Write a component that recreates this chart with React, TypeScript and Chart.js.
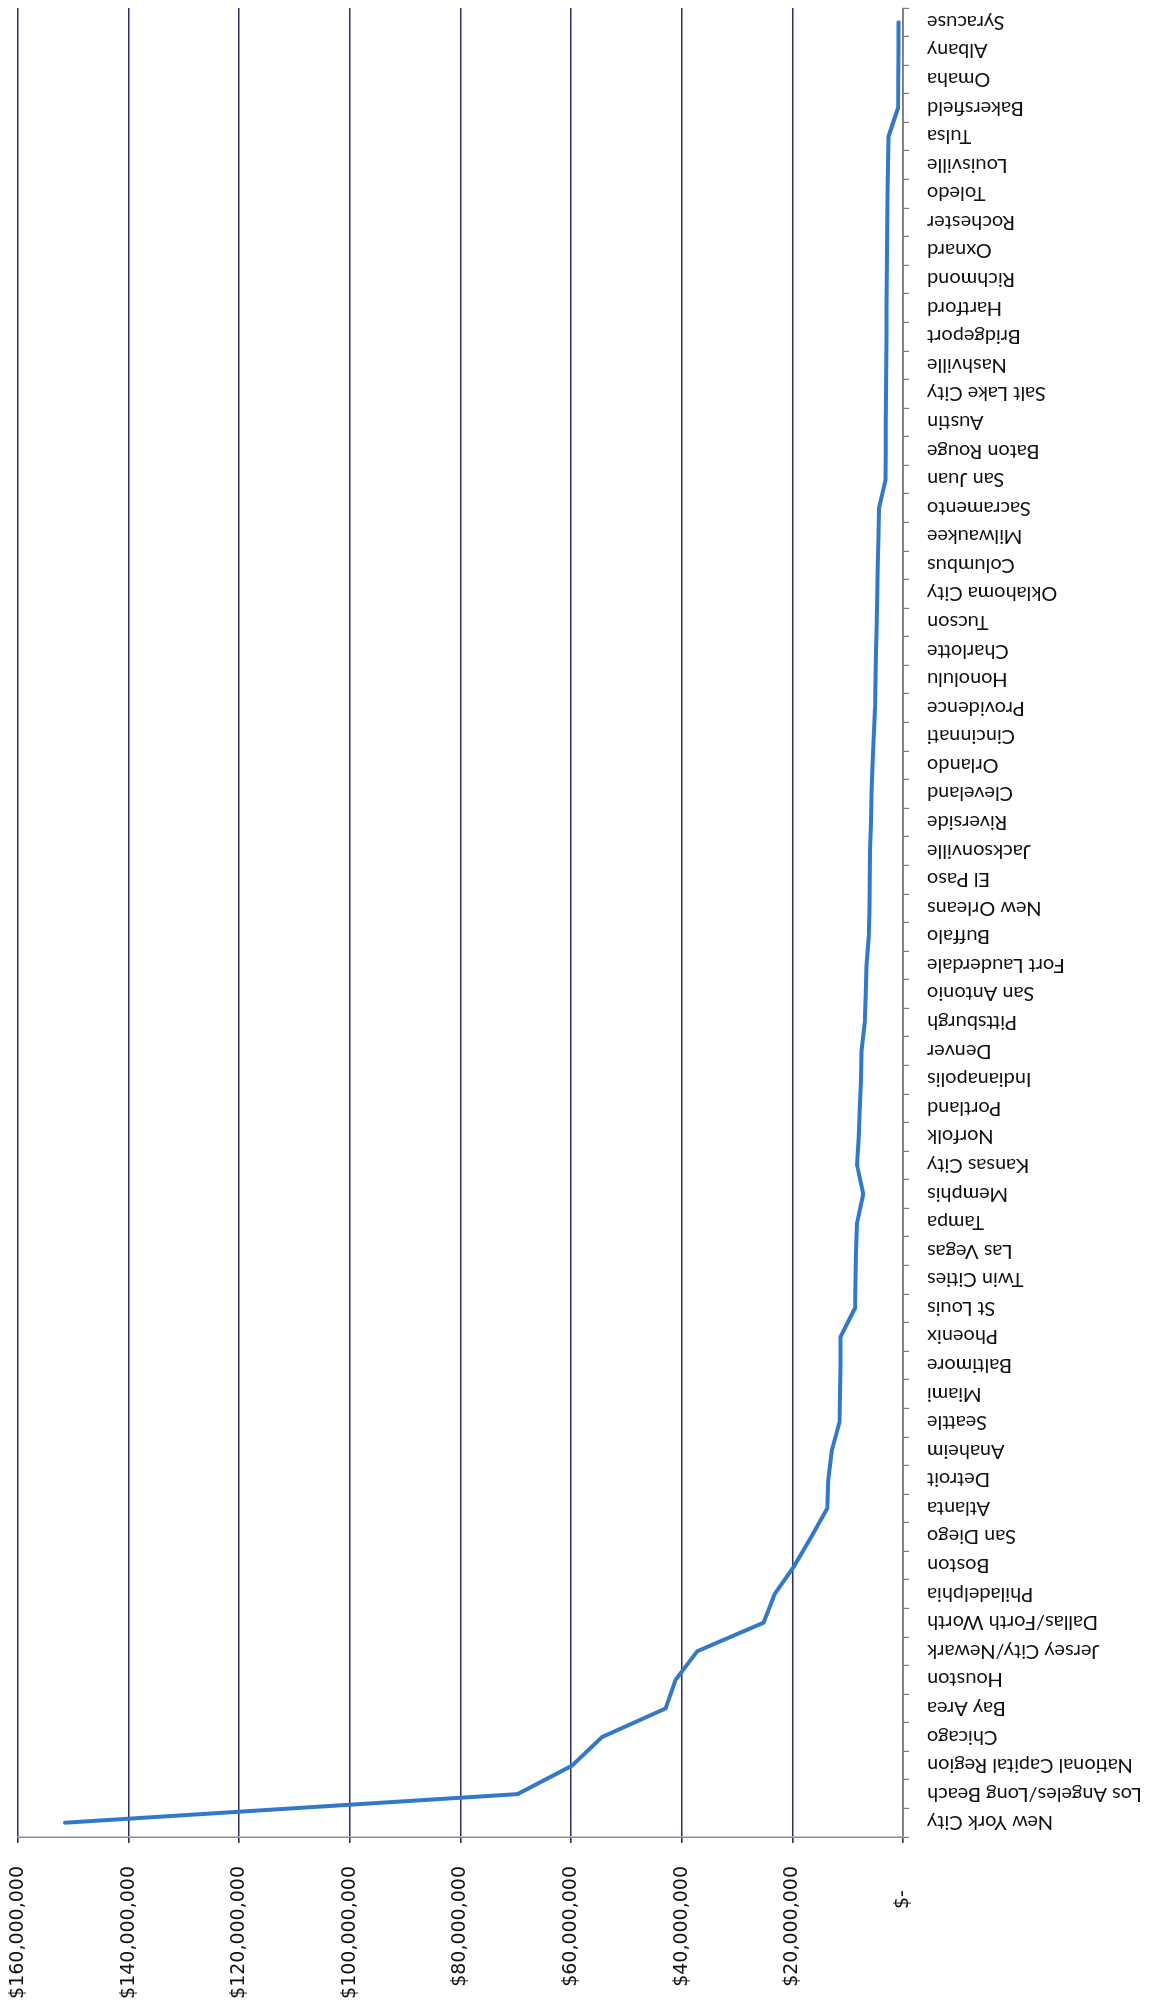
import { useEffect, useRef } from 'react';
import { Chart, registerables } from 'chart.js';

Chart.register(...registerables);

// Metro areas in chart order (first = New York City)
const cities: string[] = [
  'New York City', 'Los Angeles/Long Beach', 'National Capital Region', 'Chicago', 'Bay Area',
  'Houston', 'Jersey City/Newark', 'Dallas/Forth Worth', 'Philadelphia', 'Boston',
  'San Diego', 'Atlanta', 'Detroit', 'Anaheim', 'Seattle',
  'Miami', 'Baltimore', 'Phoenix', 'St Louis', 'Twin Cities',
  'Las Vegas', 'Tampa', 'Memphis', 'Kansas City', 'Norfolk',
  'Portland', 'Indianapolis', 'Denver', 'Pittsburgh', 'San Antonio',
  'Fort Lauderdale', 'Buffalo', 'New Orleans', 'El Paso', 'Jacksonville',
  'Riverside', 'Cleveland', 'Orlando', 'Cincinnati', 'Providence',
  'Honolulu', 'Charlotte', 'Tucson', 'Oklahoma City', 'Columbus',
  'Milwaukee', 'Sacramento', 'San Juan', 'Baton Rouge', 'Austin',
  'Salt Lake City', 'Nashville', 'Bridgeport', 'Hartford', 'Richmond',
  'Oxnard', 'Rochester', 'Toledo', 'Louisville', 'Tulsa',
  'Bakersfield', 'Omaha', 'Albany', 'Syracuse',
];

// Funding in dollars
const funding: number[] = [
  151500000, 69700000, 59800000, 54400000, 42900000,
  41100000, 37200000, 25200000, 23200000, 19600000,
  16600000, 13700000, 13500000, 12900000, 11500000,
  11400000, 11300000, 11300000, 8700000, 8600000,
  8500000, 8300000, 7200000, 8300000, 8000000,
  7800000, 7600000, 7500000, 6900000, 6750000,
  6600000, 6200000, 6050000, 6000000, 5950000,
  5800000, 5700000, 5500000, 5300000, 5050000,
  4950000, 4900000, 4750000, 4650000, 4550000,
  4450000, 4350000, 3150000, 3120000, 3100000,
  3070000, 3040000, 3000000, 2970000, 2930000,
  2900000, 2850000, 2800000, 2720000, 2620000,
  900000, 850000, 820000, 800000,
];

const axisMin = 0;
const axisMax = 160000000;
const axisStep = 20000000;

const W = 2003;
const H = 1151;

function fmtMoney(v: number): string {
  if (v === 0) return '$-    ';
  return '$' + v.toLocaleString('en-US');
}

export default function App() {
  const ref = useRef<HTMLCanvasElement>(null);

  useEffect(() => {
    const canvas = ref.current;
    if (!canvas) return;
    const chart = new Chart(canvas, {
      type: 'line',
      data: {
        labels: cities,
        datasets: [
          {
            data: funding,
            borderColor: '#3479c8',
            backgroundColor: '#3479c8',
            borderWidth: 4,
            pointRadius: 0,
            pointHoverRadius: 0,
            tension: 0,
            fill: false,
            borderJoinStyle: 'round',
            borderCapStyle: 'round',
          },
        ],
      },
      options: {
        animation: false,
        responsive: false,
        maintainAspectRatio: false,
        devicePixelRatio: 1,
        layout: { padding: { top: 18, right: 8, left: 0, bottom: 0 } },
        plugins: {
          legend: { display: false },
          tooltip: { enabled: false },
        },
        scales: {
          x: {
            type: 'category',
            offset: true,
            grid: {
              offset: true,
              drawOnChartArea: false,
              drawTicks: true,
              tickLength: 6,
              color: '#7a7a7a',
              lineWidth: 1.2,
            },
            border: { display: true, color: '#7a7a7a', width: 1.5 },
            ticks: {
              autoSkip: false,
              minRotation: 90,
              maxRotation: 90,
              padding: 18,
              color: '#111111',
              font: { family: 'Lato, "Liberation Sans", sans-serif', size: 20 },
            },
            afterFit: (s: any) => {
              s.height = 248;
              s.paddingLeft = 0;
              s.paddingRight = 0;
              s.paddingTop = 0;
              s.paddingBottom = 0;
            },
          },
          y: {
            min: axisMin,
            max: axisMax,
            grid: {
              color: '#2c2f5c',
              lineWidth: 1.6,
              drawTicks: true,
              tickLength: 6,
            },
            border: { display: true, color: '#8c8c8c', width: 1.5 },
            ticks: {
              stepSize: axisStep,
              padding: 23,
              color: '#111111',
              font: { family: '"DejaVu Sans", sans-serif', size: 19 },
              callback: (v: any) => fmtMoney(Number(v)),
            },
            afterFit: (s: any) => {
              s.width = 166;
              s.paddingLeft = 0;
              s.paddingRight = 0;
              s.paddingTop = 0;
              s.paddingBottom = 0;
            },
          },
        },
      },
    });
    return () => chart.destroy();
  }, []);

  return (
    <div
      style={{
        position: 'fixed',
        left: 0,
        top: 0,
        width: 1151,
        height: 2003,
        overflow: 'hidden',
        background: '#ffffff',
      }}
    >
      <div
        style={{
          position: 'absolute',
          left: 0,
          top: 0,
          width: W,
          height: H,
          transformOrigin: '0 0',
          transform: `translateY(${W}px) rotate(-90deg)`,
        }}
      >
        <canvas ref={ref} width={W} height={H} style={{ width: W, height: H, display: 'block' }} />
      </div>
    </div>
  );
}
